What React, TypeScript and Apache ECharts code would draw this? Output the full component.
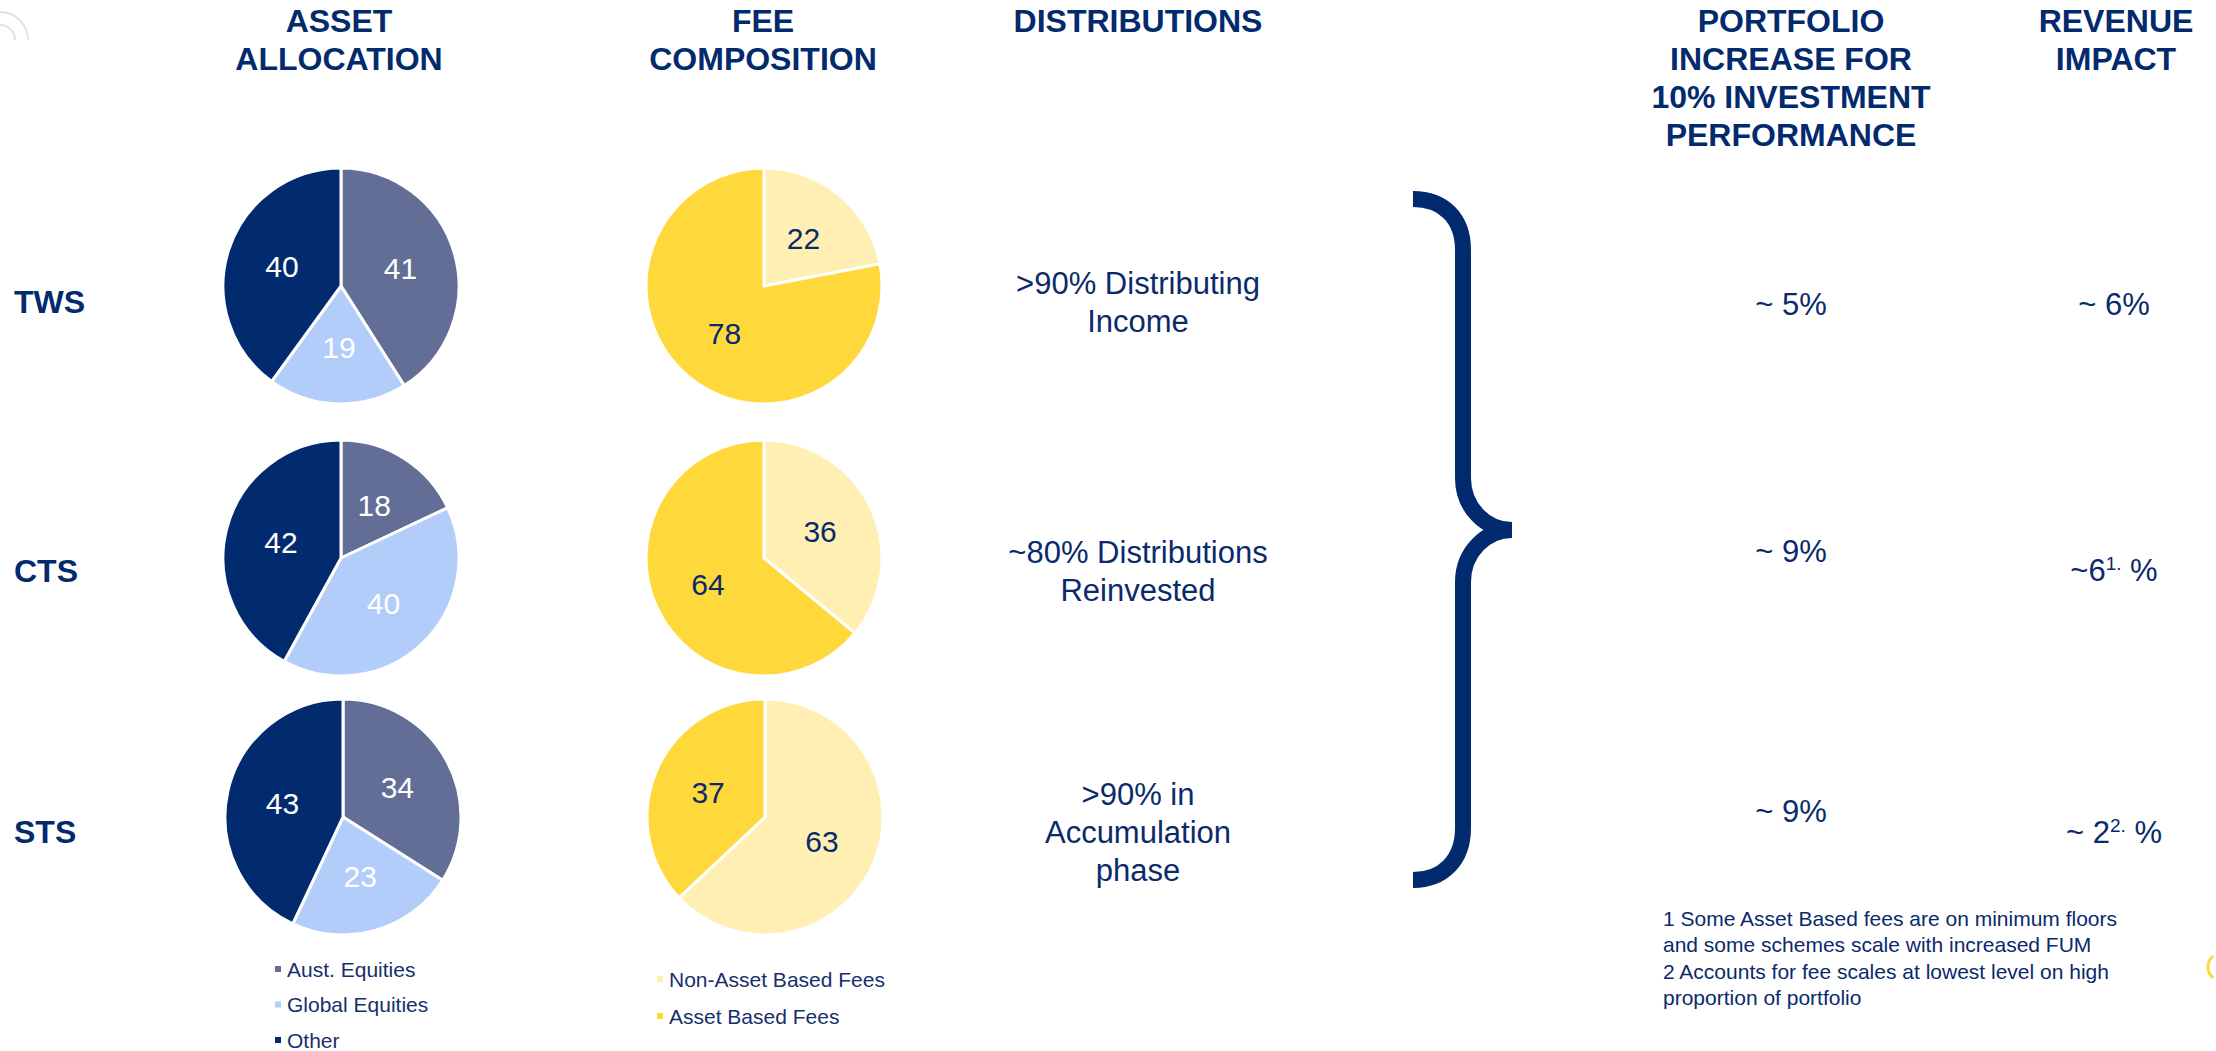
import React, { useEffect, useRef } from "react";
import * as echarts from "echarts";

// ---- data ----
const rowLabels = ["TWS", "CTS", "STS"];
const assetNames = ["Aust. Equities", "Global Equities", "Other"];
const assetColors = ["#636e96", "#b3cdfb", "#022a6e"];
const assetTWS = [41, 19, 40];
const assetCTS = [18, 40, 42];
const assetSTS = [34, 23, 43];
const feeNames = ["Non-Asset Based Fees", "Asset Based Fees"];
const feeColors = ["#ffefb3", "#ffd83c"];
const feeTWS = [22, 78];
const feeCTS = [36, 64];
const feeSTS = [63, 37];
const distributions = [
  ">90% Distributing\nIncome",
  "~80% Distributions\nReinvested",
  ">90% in\nAccumulation\nphase",
];
const portfolioIncrease = ["~ 5%", "~ 9%", "~ 9%"];
const revenueImpact = ["~ 6%", "~6{sup|1.} %", "~ 2{sup|2.} %"];
const headers = [
  "ASSET\nALLOCATION",
  "FEE\nCOMPOSITION",
  "DISTRIBUTIONS",
  "PORTFOLIO\nINCREASE FOR\n10% INVESTMENT\nPERFORMANCE",
  "REVENUE\nIMPACT",
];
const footnotes =
  "1 Some Asset Based fees are on minimum floors\nand some schemes scale with increased FUM\n2 Accounts for fee scales at lowest level on high\nproportion of portfolio";

// ---- layout ----
const FONT = "'Liberation Sans', Arial, Helvetica, sans-serif";
const NAVY = "#0a2a6c";
const headerX = [339, 763, 1138, 1791, 2116];
const rowY = [302, 571, 832];
const pieY = [286, 558, 817];
const assetX = [341, 341, 343];
const feeX = [764, 764, 765];
const portfolioY = [304, 551, 811];
const revenueY = [304, 570, 832];
const R = 118;

const BRACE =
  "M1413 199 C1443 199 1463 218 1463 250 L1463 478 C1463 508 1486 530 1512 530 " +
  "M1512 530 C1486 530 1463 552 1463 582 L1463 828 C1463 860 1443 880 1413 880";

let registered = false;

function txt(x: number, y: number, text: string, extra: any = {}) {
  const align = extra.align || "center";
  const va = extra.verticalAlign || "middle";
  return {
    type: "text",
    x,
    y,
    silent: true,
    style: {
      text,
      fill: extra.fill || NAVY,
      fontFamily: FONT,
      fontSize: extra.fontSize || 31,
      fontWeight: extra.fontWeight || "normal",
      lineHeight: extra.lineHeight,
      align,
      textAlign: align,
      verticalAlign: va,
      textVerticalAlign: va,
      rich: extra.rich,
    },
  };
}

function pieSeries(
  names: string[],
  values: number[],
  colors: string[],
  cx: number,
  cy: number,
  labelColor: string
) {
  return {
    type: "pie",
    center: [cx, cy],
    radius: [0, R],
    startAngle: 90,
    clockwise: true,
    avoidLabelOverlap: false,
    emphasis: { disabled: true },
    itemStyle: { borderColor: "#ffffff", borderWidth: 3 },
    label: {
      show: true,
      position: "inside",
      formatter: "{c}",
      fontSize: 30,
      fontFamily: FONT,
      color: labelColor,
    },
    labelLine: { show: false },
    data: names.map((n, i) => ({
      name: n,
      value: values[i],
      itemStyle: { color: colors[i] },
    })),
  };
}

export default function App() {
  const ref = useRef<HTMLDivElement>(null);
  useEffect(() => {
    document.body.style.margin = "0";
    if (!registered) {
      echarts.graphic.registerShape("brace", echarts.graphic.extendPath(BRACE, {}));
      registered = true;
    }
    const chart = echarts.init(ref.current!, null, { renderer: "svg" });
    const assetData = [assetTWS, assetCTS, assetSTS];
    const feeData = [feeTWS, feeCTS, feeSTS];
    const series: any[] = [];
    for (let i = 0; i < 3; i++) {
      series.push(pieSeries(assetNames, assetData[i], assetColors, assetX[i], pieY[i], "#ffffff"));
      series.push(pieSeries(feeNames, feeData[i], feeColors, feeX[i], pieY[i], NAVY));
    }
    const elements: any[] = [];
    headers.forEach((h, i) => {
      elements.push(
        txt(headerX[i], 2, h, {
          fontSize: 32,
          fontWeight: "bold",
          lineHeight: 38,
          verticalAlign: "top",
          fill: "#022a6c",
        })
      );
    });
    rowLabels.forEach((r, i) => {
      elements.push(
        txt(14, rowY[i], r, { fontSize: 32, fontWeight: "bold", align: "left", fill: "#022a6c" })
      );
      elements.push(txt(1138, rowY[i], distributions[i], { fontSize: 31, lineHeight: 38 }));
      elements.push(txt(1791, portfolioY[i], portfolioIncrease[i], { fontSize: 31 }));
      elements.push(
        txt(2114, revenueY[i], revenueImpact[i], {
          fontSize: 31,
          rich: {
            sup: {
              fontSize: 19,
              fontFamily: FONT,
              fill: NAVY,
              color: NAVY,
              verticalAlign: "top",
              padding: [0, 0, 14, 0],
            },
          },
        })
      );
    });
    elements.push(
      txt(1663, 905, footnotes, {
        fontSize: 21,
        lineHeight: 26.5,
        align: "left",
        verticalAlign: "top",
      })
    );
    elements.push({
      type: "brace",
      x: 0,
      y: 0,
      silent: true,
      style: { stroke: "#022a6e", lineWidth: 16, fill: null, lineCap: "butt" },
    });
    // faint logo mark top-left
    elements.push({
      type: "arc",
      silent: true,
      shape: { cx: 0, cy: 40, r: 28, startAngle: -Math.PI / 2, endAngle: 0, clockwise: true },
      style: { stroke: "#e2e2e2", lineWidth: 2, fill: null },
    });
    elements.push({
      type: "arc",
      silent: true,
      shape: { cx: 0, cy: 40, r: 15, startAngle: -Math.PI / 2, endAngle: 0, clockwise: true },
      style: { stroke: "#e2e2e2", lineWidth: 2, fill: null },
    });
    // small yellow mark at right edge
    elements.push({
      type: "arc",
      silent: true,
      shape: { cx: 2222, cy: 967, r: 14, startAngle: Math.PI * 0.72, endAngle: Math.PI * 1.28, clockwise: true },
      style: { stroke: "#ffd83c", lineWidth: 3, fill: null },
    });

    const legendText = { fontSize: 21, color: "#17306b", fontFamily: FONT, lineHeight: 22 };
    chart.setOption({
      animation: false,
      backgroundColor: "#ffffff",
      legend: [
        {
          data: assetNames,
          orient: "vertical",
          left: 273,
          top: 958,
          width: 250,
          height: 140,
          padding: 0,
          icon: "rect",
          itemWidth: 8,
          itemHeight: 8,
          itemGap: 13.5,
          selectedMode: false,
          textStyle: legendText,
        },
        {
          data: feeNames,
          orient: "vertical",
          left: 655,
          top: 968,
          width: 300,
          height: 140,
          padding: 0,
          icon: "rect",
          itemWidth: 8,
          itemHeight: 8,
          itemGap: 15,
          selectedMode: false,
          textStyle: legendText,
        },
      ],
      series,
      graphic: { elements },
    });
    return () => chart.dispose();
  }, []);
  return <div ref={ref} style={{ width: 2216, height: 1051 }} />;
}
